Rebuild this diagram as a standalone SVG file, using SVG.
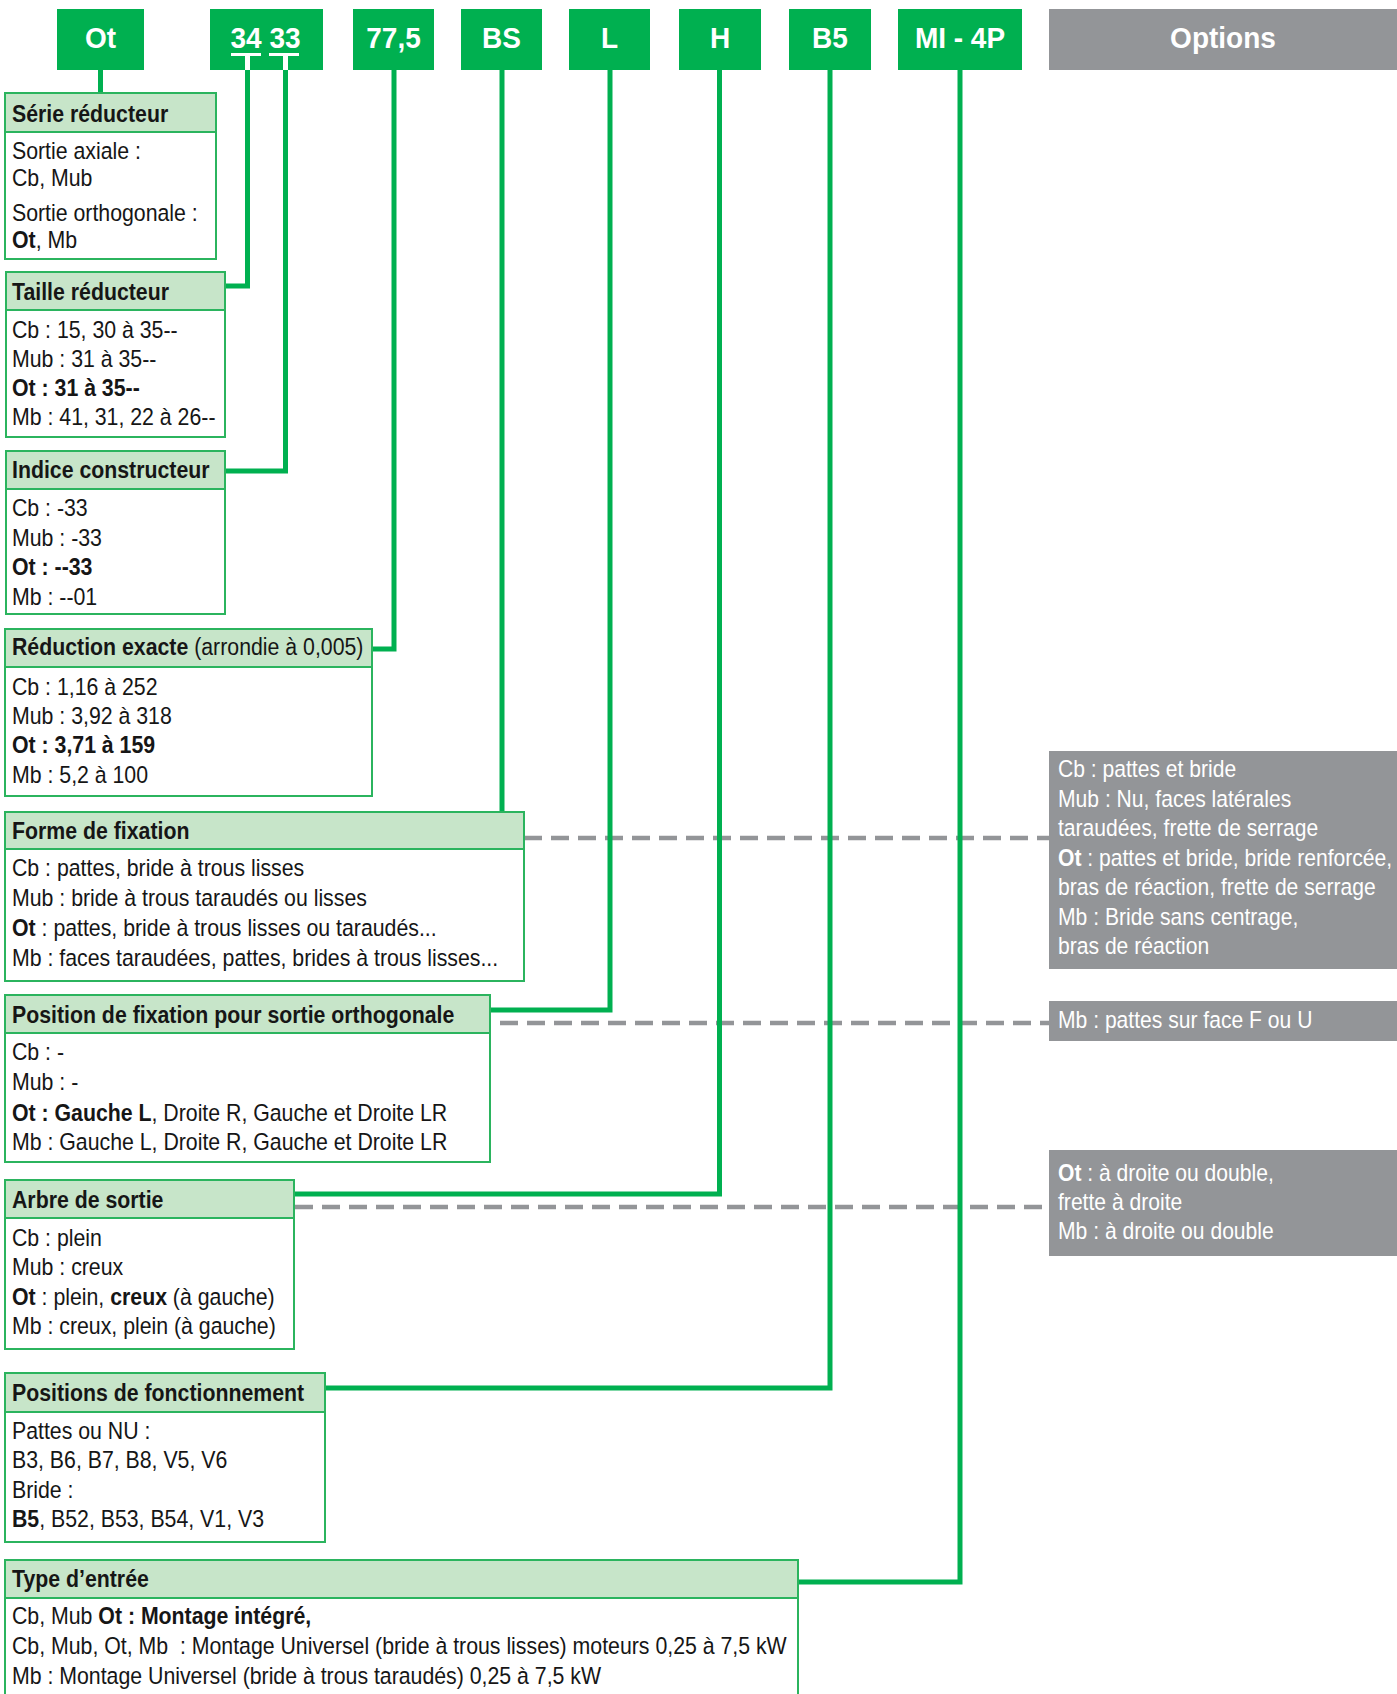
<svg xmlns="http://www.w3.org/2000/svg" width="1397" height="1694" viewBox="0 0 1397 1694">
<style>
text { font-family: "Liberation Sans", Arial, sans-serif; }
.lab { font-size: 28px; font-weight: bold; fill: #ffffff; text-anchor: middle; transform: scaleY(1.06); transform-box: fill-box; transform-origin: 50% 100%; }
.hd { font-size: 21.3px; font-weight: bold; fill: #161616; transform: scaleY(1.09); transform-box: fill-box; transform-origin: 0 100%; }
.bd { font-size: 21.3px; fill: #161616; transform: scaleY(1.16); transform-box: fill-box; transform-origin: 0 100%; }
.gr { font-size: 21.1px; fill: #ffffff; transform: scaleY(1.1); transform-box: fill-box; transform-origin: 0 100%; }
.b { font-weight: bold; }
.n { font-weight: normal; }
.gbox { fill: #00B050; }
.obox { fill: #939598; }
.box { fill: #ffffff; stroke: #2BB45E; stroke-width: 2; }
.hdr { fill: #C7E5C9; stroke: #2BB45E; stroke-width: 2; }
.ln { fill: none; stroke: #00B050; stroke-width: 5; stroke-linejoin: miter; }
.ds { fill: none; stroke: #939598; stroke-width: 4.5; stroke-dasharray: 18 9; }
</style>
<rect x="0" y="0" width="1397" height="1694" fill="#ffffff"/>

<g id="connectors">
  <path class="ds" d="M524,838 H1049"/>
  <path class="ds" d="M500,1023 H1049"/>
  <path class="ds" d="M295,1207 H1049"/>
  <path class="ln" d="M100.5,70 V93"/>
  <path class="ln" d="M247.5,70 V286 H225"/>
  <path class="ln" d="M285.5,70 V471 H225"/>
  <path class="ln" d="M394,70 V649 H372"/>
  <path class="ln" d="M502,70 V812"/>
  <path class="ln" d="M610,70 V1010 H490"/>
  <path class="ln" d="M719.5,70 V1194 H294"/>
  <path class="ln" d="M830,70 V1388 H325"/>
  <path class="ln" d="M960,70 V1582 H798"/>
</g>

<g id="lbl-serie">
  <rect class="gbox" x="57" y="9" width="87" height="61"/>
  <text class="lab" x="100.5" y="48">Ot</text>
</g>
<g id="lbl-taille">
  <rect class="gbox" x="210" y="9" width="113" height="61"/>
  <text class="lab" x="265.5" y="48">34 33</text>
  <rect x="231" y="53" width="30" height="3" fill="#ffffff"/>
  <rect x="269" y="53" width="30" height="3" fill="#ffffff"/>
  <rect x="245" y="55" width="5" height="15" fill="#ffffff"/>
  <rect x="283" y="55" width="5" height="15" fill="#ffffff"/>
</g>
<g id="lbl-reduction">
  <rect class="gbox" x="353" y="9" width="81" height="61"/>
  <text class="lab" x="393.5" y="48">77,5</text>
</g>
<g id="lbl-forme">
  <rect class="gbox" x="461" y="9" width="81" height="61"/>
  <text class="lab" x="501.5" y="48">BS</text>
</g>
<g id="lbl-position">
  <rect class="gbox" x="569" y="9" width="81" height="61"/>
  <text class="lab" x="609.5" y="48">L</text>
</g>
<g id="lbl-arbre">
  <rect class="gbox" x="679" y="9" width="82" height="61"/>
  <text class="lab" x="720" y="48">H</text>
</g>
<g id="lbl-positions">
  <rect class="gbox" x="789" y="9" width="82" height="61"/>
  <text class="lab" x="830" y="48">B5</text>
</g>
<g id="lbl-entree">
  <rect class="gbox" x="898" y="9" width="124" height="61"/>
  <text class="lab" x="960" y="48">MI - 4P</text>
</g>
<g id="lbl-options">
  <rect class="obox" x="1049" y="9" width="348" height="61"/>
  <text class="lab" x="1223" y="48">Options</text>
</g>

<g id="box-serie">
  <rect class="box" x="5" y="93" width="211" height="166"/>
  <rect class="hdr" x="5" y="93" width="211" height="39"/>
  <text class="hd" x="12" y="122">Série réducteur</text>
  <text class="bd" x="12" y="160">Sortie axiale :</text>
  <text class="bd" x="12" y="187">Cb, Mub</text>
  <text class="bd" x="12" y="222">Sortie orthogonale :</text>
  <text class="bd" x="12" y="249"><tspan class="b">Ot</tspan>, Mb</text>
</g>

<g id="box-taille">
  <rect class="box" x="6" y="272" width="219" height="165"/>
  <rect class="hdr" x="6" y="272" width="219" height="38"/>
  <text class="hd" x="12" y="300">Taille réducteur</text>
  <text class="bd" x="12" y="339">Cb : 15, 30 à 35--</text>
  <text class="bd" x="12" y="368">Mub : 31 à 35--</text>
  <text class="bd b" x="12" y="397">Ot : 31 à 35--</text>
  <text class="bd" x="12" y="426">Mb : 41, 31, 22 à 26--</text>
</g>

<g id="box-indice">
  <rect class="box" x="6" y="451" width="219" height="163"/>
  <rect class="hdr" x="6" y="451" width="219" height="38"/>
  <text class="hd" x="12" y="478">Indice constructeur</text>
  <text class="bd" x="12" y="517">Cb : -33</text>
  <text class="bd" x="12" y="547">Mub : -33</text>
  <text class="bd b" x="12" y="576">Ot : --33</text>
  <text class="bd" x="12" y="606">Mb : --01</text>
</g>

<g id="box-reduction">
  <rect class="box" x="5" y="629" width="367" height="167"/>
  <rect class="hdr" x="5" y="629" width="367" height="38"/>
  <text class="hd" x="12" y="655">Réduction exacte<tspan class="n"> (arrondie à 0,005)</tspan></text>
  <text class="bd" x="12" y="696">Cb : 1,16 à 252</text>
  <text class="bd" x="12" y="725">Mub : 3,92 à 318</text>
  <text class="bd b" x="12" y="754">Ot : 3,71 à 159</text>
  <text class="bd" x="12" y="784">Mb : 5,2 à 100</text>
</g>

<g id="box-forme">
  <rect class="box" x="5" y="812" width="519" height="169"/>
  <rect class="hdr" x="5" y="812" width="519" height="37"/>
  <text class="hd" x="12" y="839">Forme de fixation</text>
  <text class="bd" x="12" y="877">Cb : pattes, bride à trous lisses</text>
  <text class="bd" x="12" y="907">Mub : bride à trous taraudés ou lisses</text>
  <text class="bd" x="12" y="937"><tspan class="b">Ot</tspan> : pattes, bride à trous lisses ou taraudés...</text>
  <text class="bd" x="12" y="967">Mb : faces taraudées, pattes, brides à trous lisses...</text>
</g>

<g id="box-position">
  <rect class="box" x="5" y="995" width="485" height="167"/>
  <rect class="hdr" x="5" y="995" width="485" height="38"/>
  <text class="hd" x="12" y="1023">Position de fixation pour sortie orthogonale</text>
  <text class="bd" x="12" y="1061">Cb : -</text>
  <text class="bd" x="12" y="1091">Mub : -</text>
  <text class="bd" x="12" y="1122"><tspan class="b">Ot : Gauche L</tspan>, Droite R, Gauche et Droite LR</text>
  <text class="bd" x="12" y="1151">Mb : Gauche L, Droite R, Gauche et Droite LR</text>
</g>

<g id="box-arbre">
  <rect class="box" x="5" y="1180" width="289" height="169"/>
  <rect class="hdr" x="5" y="1180" width="289" height="38"/>
  <text class="hd" x="12" y="1208">Arbre de sortie</text>
  <text class="bd" x="12" y="1247">Cb : plein</text>
  <text class="bd" x="12" y="1276">Mub : creux</text>
  <text class="bd" x="12" y="1306"><tspan class="b">Ot</tspan> : plein, <tspan class="b">creux</tspan> (à gauche)</text>
  <text class="bd" x="12" y="1335">Mb : creux, plein (à gauche)</text>
</g>

<g id="box-positions">
  <rect class="box" x="5" y="1373" width="320" height="169"/>
  <rect class="hdr" x="5" y="1373" width="320" height="39"/>
  <text class="hd" x="12" y="1401">Positions de fonctionnement</text>
  <text class="bd" x="12" y="1440">Pattes ou NU :</text>
  <text class="bd" x="12" y="1469">B3, B6, B7, B8, V5, V6</text>
  <text class="bd" x="12" y="1499">Bride :</text>
  <text class="bd" x="12" y="1528"><tspan class="b">B5</tspan>, B52, B53, B54, V1, V3</text>
</g>

<g id="box-entree">
  <rect class="box" x="5" y="1560" width="793" height="160"/>
  <rect class="hdr" x="5" y="1560" width="793" height="38"/>
  <text class="hd" x="12" y="1587">Type d’entrée</text>
  <text class="bd" x="12" y="1625">Cb, Mub <tspan class="b">Ot : Montage intégré,</tspan></text>
  <text class="bd" x="12" y="1655" xml:space="preserve">Cb, Mub, Ot, Mb  : Montage Universel (bride à trous lisses) moteurs 0,25 à 7,5 kW</text>
  <text class="bd" x="12" y="1685">Mb : Montage Universel (bride à trous taraudés) 0,25 à 7,5 kW</text>
</g>

<g id="opt-forme">
  <rect class="obox" x="1049" y="751" width="348" height="218"/>
  <text class="gr" x="1058" y="777">Cb : pattes et bride</text>
  <text class="gr" x="1058" y="807">Mub : Nu, faces latérales</text>
  <text class="gr" x="1058" y="836">taraudées, frette de serrage</text>
  <text class="gr" x="1058" y="866"><tspan class="b">Ot</tspan> : pattes et bride, bride renforcée,</text>
  <text class="gr" x="1058" y="895">bras de réaction, frette de serrage</text>
  <text class="gr" x="1058" y="925">Mb : Bride sans centrage,</text>
  <text class="gr" x="1058" y="954">bras de réaction</text>
</g>

<g id="opt-position">
  <rect class="obox" x="1049" y="1001" width="348" height="40"/>
  <text class="gr" x="1058" y="1028">Mb : pattes sur face F ou U</text>
</g>

<g id="opt-arbre">
  <rect class="obox" x="1049" y="1150" width="348" height="106"/>
  <text class="gr" x="1058" y="1181"><tspan class="b">Ot</tspan> : à droite ou double,</text>
  <text class="gr" x="1058" y="1210">frette à droite</text>
  <text class="gr" x="1058" y="1239">Mb : à droite ou double</text>
</g>
</svg>
